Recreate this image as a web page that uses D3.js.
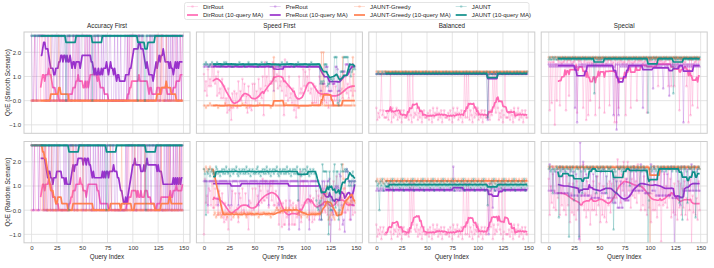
<!DOCTYPE html>
<html>
<head>
<meta charset="utf-8">
<script src="https://cdn.jsdelivr.net/npm/d3@7"></script>
<style>
  body { margin: 0; background: #fff; }
  svg { font-family: "Liberation Sans", Arial, sans-serif; }
</style>
</head>
<body>
<svg id="chart" width="714" height="268"></svg>
<script>
const methods = ['DirRout', 'PreRout', 'JAUNT-Greedy', 'JAUNT'];
const colors = ['#ff69b4', '#9932cc', '#ff7f50', '#0f8f8a'];
const columns = ['Accuracy First', 'Speed First', 'Balanced', 'Special'];
const scenarios = ['QoE (Smooth Scenario)', 'QoE (Random Scenario)'];
const xTicks = [0, 25, 50, 75, 100, 125, 150];
const yTicks = [-1, 0, 1, 2];
const windowSize = 10;
const accTop = 2.68;

// per-query QoE, one char per query (blocks of 10).
// Accuracy First: 1 = full QoE hit, 0 = miss
const accSmoothDir    = '0001000010 1100100100 0000000000 0000000100 0100101000 0001010110 0010001000 0000000000 0000000000 0000010101 0000011001 0000000100 0000100001 0000000001 1001000101';
const accSmoothPre    = '1001101111 1111001000 1101101101 1011010110 0110110101 1110110100 1001011001 0101100110 0010010010 0011010111 1111011101 1000100101 0111011011 1001010101 0110101101';
const accSmoothGreedy = '0000000000 0000000001 0000000100 0000000000 0000000000 0000000000 0000000000 0000000000 0000000000 0000000000 0000000000 0000000000 0000100010 0001000000 0000000000';
const accSmoothJaunt  = '1111111111 1111111111 1111111111 1111011111 1111111111 1111111111 0111111111 1111111111 1111111111 1111111111 1111101111 1101111111 1111111111 1111111111 1111111111';
const accRandomDir    = '0001000010 1100100100 0000000000 0000000101 0100100110 0000011110 0000001000 0000000000 0000000000 0000101001 0000010010 0010000000 0000100010 0000100100 1001000101';
const accRandomPre    = '1101111011 1101000110 1011010110 0010100111 1101101111 1011011010 0101011010 1010110110 1100100000 0001011111 1010011101 1101101101 1101010100 0101010100 1010101010';
const accRandomGreedy = '1111111111 1010100000 1000001000 0000000000 0100000000 0100000000 0000000000 0000000010 0000000001 0000000000 0010000000 0010000000 0000000010 0000001000 0000001000';
const accRandomJaunt  = '1111111111 1111111111 1111111111 1111111011 1111111111 1111111111 1111111111 1111011111 1111111111 1111111111 1111111111 1110111111 1111111111 1111111111 1111111111';

// other scenarios: level letters, A = -1.4 ... O = 0.0 ... q = 2.8 (step 0.1)
const LEVELS = 'ABCDEFGHIJKLMNOPQRSTUVWXYZabcdefghijklmnopq';
const speedSmoothDir    = 'ZSWQbUXUdW cVYQaRTPXP UMPJTKMGRL SNRLWOSOXQ VNQJULMKVP VOSMXQTPYI eUYSdVWVeX dWZTdUWSbI fQUOYPRNTK QHPLYRTRbU aUYSbRTNVN UNSMYQRNVO UNRLWOQMVO UOSNYRTPZS YRVPaSUQZS';
const speedSmoothPre    = 'ccdcccdccc cdcccccdcc ccccdccccc cdcccccccd ccccdccccc cccccdcccc ccdccccccS cccccdcccc ccccccdccc cdcccccccc ccccdccccc cccccSSVVV cccSSSSVVV ccbSSXXaaa dddcdccdcc';
const speedSmoothGreedy = 'MMLMMMNMMM MMMMLMMMMM MNMMMMMLMM MMMMMMMMNM MMLMMMMMMM MMMMMNMMMM MMMMMMLMMg MMMMMMMMMM MNMMMMMMMM MMMMLMMMMM MMMMMMMNMM MMMMMMiMiM MMMMMMMMMM MMMMMMMgMM MMMMMMMgMM';
const speedSmoothJaunt  = 'ddeddcdded dddedddcdd ededddddcd dddddedddd cdddeddddd dddcdddedd ddedddcddd dddddcdedd ddeddddddc dddedddddd ddcdddeddd dddddVWVWd ddUVVXXWXg ggNMOaaagg gggabYabcb';
const speedRandomDir    = 'EbRUNXWQZP PXQTMWTMVL JRKNGQPKWN NVNPJVTNXO NVMNGSRMXO PXQUNYWRbS SaTWPaYSaQ QWPRIRNHRI ISLOISQIRI IQLSMeJQaR RYRSKURJTK MWQUNWTNXO NVMPIUSNaR RcQTGVTNXN NVORKUSMWN';
const speedRandomPre    = 'aaaaQaaaaa aaaaQaaaaa aaaaQaaQaa aaaaQaaaaa aaaaQaaaaa aaaaQaaaaa aaaaQaaaaa aaaaQaaaaa aaaaGaaaaa aaaaGaaaaa aaaaGaaaaa aaaaKQKaQa QXaabAKOMX YXYXdcQIKF efeaaKaQaa';
const speedRandomGreedy = 'fegfefgfef MNLMNMNLMN NMNLNMNMNL MNNMLNMNMN NMLNMNNMNM MNMNLMNMNN NMNMNMLNMN NOPOONPONO OPNOPOONPO OPNMNMLNMN MNLMNMNMNM NMNMNMTWUR VYQKLMNMLK NMNMNMPhbX RSRTQSRTSR';
const speedRandomJaunt  = 'fdMedfcefd edgfdecefd fdgedfcefd fegdcfdefd fdgedfcefd edfgdecefd fdgedfcefd fegdcfdefd fdgedfcefd fdgSdfcefd fegdcfdefd eSPORSKhee eeYEeOOSeh PeeKOeheef efeYaYaeYa';
const balSmoothDir      = 'LGJHKZIKHH HJGKZFLHJI LGJHKFIKHH HZGZIFZHJI LGJHKFIKHH HJGKIFLHJI LGJHKFIKHH HJGKIFLHJI LGJHKFIZHZ HZGKIFLHJI LGJHKFIKHH HZGKIZLZJZ LGJHKFIZHH HJGKIFLHJI LGJHKFIKHH';
const balSmoothPre      = 'ZZZZZZZZZZ ZZZZZZZZZZ ZZZZZZZZZZ ZZZZZZZZZZ ZZZZZZZZZZ ZZZZZZZZZZ ZZZZZZZZZZ ZZZZZZZZZZ ZZZZZZZZZZ ZZZZZZZZZZ ZZZZZZZZZZ GZZZZZZZZZ ZZZZZZZZZZ ZZZZZZZZZZ ZZZZZZZZZZ';
const balSmoothGreedy   = 'aaZaaaZaaa aaZaaaZaaa aaZaaaZaaa aaZaaaZaaa aaZaaaZaaa aaZaaaZaaa aaZaaaZaaa aaZaaaZaaa aaZaaaZaaa aaZaaaZaaa aaZaaaZaaa aaZaaaZaaa aaZaaaZaaa aaZaaaZaaa aaZaaaZaaa';
const balSmoothJaunt    = 'ZZaZZZaZZa ZZaZZZaZZa ZZaZZZaZZa ZZaZZZaZZa ZZaZZZaZZa ZZaZZZaZZa ZZaZZZaZZa ZZaZZZaZZa ZZaZZZaZZa ZZaZZZaZZa ZZaZZZaZZa HZaZZZaZZa ZZaZZZaZZa ZZaZZZaZZa ZZaZZZaZZa';
const balRandomDir      = 'IDGEHCFHEE EGZHFCZEGF IDGEHCFHEE EGDZFZIZGF IDGEHCFHEE EGDHFCIEGF IDGEHCFHEE EGDHFCIEGF IDGEHCZHEZ EZDHFCIEGF IDGEHCFHEE ZGZHZCIEGF IZGEZCFZEE EGDHFCIEGF IDGEHCFHEE';
const balRandomPre      = 'WXWWXWXWWX WXWWXWXWWX WXWWXWXWWX WXWWXWXWWX WXWWXWXWWX WXWWXWXWWX WXWWXWXWWX WXWWXWgWWX WXWWXWXWWX WXWWXWXWWX WXWWXWXWWX WEWWXPXWWX WXWWXWXWWX WXWWXWXWWX WXWWXWXWWX';
const balRandomGreedy   = 'abaZbaaZba abaZbaaZba abaZbaaZba abaZbaaZba abaZbaaZba abaZbaaZba abaZbaaZba abaZbaaZba abaZbaaZba abaZbaaZba abaZbaaZba abaZbaaZba abaZbaaZba abaZbaaZba abaZbaaZba';
const balRandomJaunt    = 'aYZOaYbWZY aYZXaYbWZY aYZXaYbWZY aYZXaYbWZY aYZXaYbWZY aYZXaYbWZY aYZXaYbWZY aYZXaYbWZY aYZXaYbWZY aYZXaYbWZY aYZXaYbWZY QYZXaYbWZY aYZXaYbWZY aYZXaYbWZY aYZXaYbWZY';
const specSmoothDir     = 'eKeNeeEdOf eMedeefKef QfedeefdJf efedLefGeI eOedeeIdef LfedeJfdef MfedeFfFeL efedeeIdef eLedeefOef efedeefJef efedeefdUf efedeefdUf eUedUefdeK efedeeUdFf IfMdeefLef';
const specSmoothPre     = 'dcdcdcdcdc dcdcdcdcdc dcdcdcLcFc dcdcdcdcdc dcdcdcdcdc dcdcdcdcdc dcdcIcdCdI dcdcdcdcdc dcdcdcdcdc dcdLdcdcdc dcdTdcdcdc dcdTdcdcdQ dcdcdcdcdc dcdFdcdcdc dcdcdcdcdc';
const specSmoothGreedy  = 'gfgggfgggf gfgggfgggf gfgggfgggf gfgggfgggf gfgggfgggf gfgggfgggf gfgggfgggf gfgggfgggf gfgggfgggf gfgggfgggf gfgggfgggf gfgggfgggf gfgggfgggf gfgggfgggf gfgggfgggf';
const specSmoothJaunt   = 'fgffgfgffg fgffgfgffg fgffgfgffg fgffgfgffg fgffgRgffg fgffgfgffg fgffgfgffg fgffgfgffg fgffgfgffg fgffgfgfJg fgffgfgffg fgffgfgffg fgfRgfgffg fgffgfgffg fgffgfgffg';
const specRandomDir     = 'bMYRdPWOfT cMYQcOVMcQ ZJVNZMTKaO XAUQhOVLaO XIUOaOVMcQ ZJUMYLSJZQ aNZSeTcTjX gRdWiUbSiW ePbUgTaRhV eOYQcOVMbP YJVOaOULbQ eBXQdRYPfT bLVNZMTKaP ZMXPaMTKaO cAUNZMTKaO';
const specRandomPre     = 'WhWWgWVeVV VgVVfVVeVV UfUUeUUdUU CqUUiUUdUU UfTTdTTcTT TeVVfVVcTT TeTRbRRaPP PaPPZSSbSS UfWWgWWfWW WhWWfVVeVV VhWWgWUdUU UfUUeUUdUU UgTTATTfTT QgTWgWWfWW WhWWgWWfWW';
const specRandomGreedy  = 'gfgggfgggf gfgggfgggf gfgggfgggf gfgggfgggf gfgggfgggf gfgggfgggf gfgggfgggf gfgggfgggf gfgggfgggf gfgggfgggf Afgggfgggf gfgggfgggf gfgggfgggf gfgggfgggf gfgggfgggf';
const specRandomJaunt   = 'fgefVfefgf Lgefgfefgf DgefgSefgf DgeVgfefgf fgefgfeVgf fgefgfeVgf fgefGfeVgf fgefgfefgf Ygefgfefgf YgefgfefAS fgefgfefgf fgefgfefgf fgefgfefgR fgKfgfeRgf fgefgLefgf';

const hits = (s, top) => s.replace(/ /g, '').split('').map(c => c === '1' ? top : 0);
const levels = s => s.replace(/ /g, '').split('').map(c => +(-1.4 + 0.1 * LEVELS.indexOf(c)).toFixed(1));

const panels = [
  { row: 0, col: 0, raw: [accSmoothDir, accSmoothPre, accSmoothGreedy, accSmoothJaunt].map(s => hits(s, accTop)) },
  { row: 1, col: 0, raw: [accRandomDir, accRandomPre, accRandomGreedy, accRandomJaunt].map(s => hits(s, accTop)) },
  { row: 0, col: 1, raw: [speedSmoothDir, speedSmoothPre, speedSmoothGreedy, speedSmoothJaunt].map(levels) },
  { row: 1, col: 1, raw: [speedRandomDir, speedRandomPre, speedRandomGreedy, speedRandomJaunt].map(levels) },
  { row: 0, col: 2, raw: [balSmoothDir, balSmoothPre, balSmoothGreedy, balSmoothJaunt].map(levels) },
  { row: 1, col: 2, raw: [balRandomDir, balRandomPre, balRandomGreedy, balRandomJaunt].map(levels) },
  { row: 0, col: 3, raw: [specSmoothDir, specSmoothPre, specSmoothGreedy, specSmoothJaunt].map(levels) },
  { row: 1, col: 3, raw: [specRandomDir, specRandomPre, specRandomGreedy, specRandomJaunt].map(levels) }
];

const movingAvg = v => v.map((d, i) => i < windowSize - 1 ? null : d3.mean(v.slice(i - windowSize + 1, i + 1)));

const panelW = 166;
const panelH = 101.3;
const panelLeft = col => 24 + col * 172.4;
const panelTop = row => row === 0 ? 32 : 141.5;

const x = d3.scaleLinear().domain([-7.45, 156.45]).range([0, panelW]);
const y = d3.scaleLinear().domain([-1.35, 2.84]).range([panelH, 0]);
const line = d3.line().defined(d => d != null).x((d, i) => x(i)).y(d => y(d));

const svg = d3.select('#chart');

panels.forEach((p, k) => {
  const g = svg.append('g').attr('transform', `translate(${panelLeft(p.col)},${panelTop(p.row)})`);
  g.append('clipPath').attr('id', 'clip' + k)
    .append('rect').attr('width', panelW).attr('height', panelH);
  g.append('rect').attr('width', panelW).attr('height', panelH).attr('fill', '#fff');

  g.selectAll('.gx').data(xTicks).join('line')
    .attr('x1', d => x(d)).attr('x2', d => x(d)).attr('y1', 0).attr('y2', panelH)
    .attr('stroke', '#dedede').attr('stroke-width', 0.8);
  g.selectAll('.gy').data(yTicks).join('line')
    .attr('y1', d => y(d)).attr('y2', d => y(d)).attr('x1', 0).attr('x2', panelW)
    .attr('stroke', '#dedede').attr('stroke-width', 0.8);

  const plot = g.append('g').attr('clip-path', `url(#clip${k})`);
  p.raw.forEach((vals, i) => {
    plot.append('path').datum(vals).attr('d', line)
      .attr('fill', 'none').attr('stroke', colors[i]).attr('stroke-width', 0.8).attr('stroke-opacity', 0.3);
    plot.append('g').selectAll('circle').data(vals).join('circle')
      .attr('cx', (d, j) => x(j)).attr('cy', d => y(d)).attr('r', 1.3)
      .attr('fill', colors[i]).attr('fill-opacity', 0.3);
    plot.append('path').datum(movingAvg(vals)).attr('d', line)
      .attr('fill', 'none').attr('stroke', colors[i]).attr('stroke-width', 1.7)
      .attr('stroke-linejoin', 'round');
  });

  g.append('rect').attr('width', panelW).attr('height', panelH)
    .attr('fill', 'none').attr('stroke', '#cccccc').attr('stroke-width', 1);

  if (p.row === 0) {
    g.append('text').attr('x', panelW / 2).attr('y', -4).attr('text-anchor', 'middle')
      .attr('font-size', 6.3).attr('fill', '#262626').text(columns[p.col]);
  }
  if (p.col === 0) {
    const ay = g.append('g')
      .call(d3.axisLeft(y).tickValues(yTicks).tickSize(0).tickPadding(3));
    ay.select('.domain').remove();
    ay.selectAll('text').attr('font-size', 6).attr('fill', '#333').attr('font-family', 'Liberation Sans, Arial, sans-serif');
    g.append('text').attr('transform', `translate(-14,${panelH / 2}) rotate(-90)`)
      .attr('text-anchor', 'middle').attr('font-size', 6.3).attr('fill', '#262626')
      .text(scenarios[p.row]);
  }
  if (p.row === 1) {
    const ax = g.append('g').attr('transform', `translate(0,${panelH})`)
      .call(d3.axisBottom(x).tickValues(xTicks).tickSize(0).tickPadding(3));
    ax.select('.domain').remove();
    ax.selectAll('text').attr('font-size', 6).attr('fill', '#333').attr('font-family', 'Liberation Sans, Arial, sans-serif');
    g.append('text').attr('x', panelW / 2).attr('y', panelH + 16.5).attr('text-anchor', 'middle')
      .attr('font-size', 6.3).attr('fill', '#262626').text('Query Index');
  }
});

// legend
const legendX = [187, 269.7, 354, 455.7];
const legend = svg.append('g');
legend.append('rect').attr('x', 184.5).attr('y', 2.5).attr('width', 344.5).attr('height', 17)
  .attr('rx', 2).attr('fill', '#fff').attr('stroke', '#dddddd').attr('stroke-width', 0.8);
methods.forEach((m, i) => {
  const lx = legendX[i];
  legend.append('line').attr('x1', lx).attr('x2', lx + 11).attr('y1', 6.5).attr('y2', 6.5)
    .attr('stroke', colors[i]).attr('stroke-width', 0.8).attr('stroke-opacity', 0.3);
  legend.append('circle').attr('cx', lx + 5.5).attr('cy', 6.5).attr('r', 1.3)
    .attr('fill', colors[i]).attr('fill-opacity', 0.3);
  legend.append('text').attr('x', lx + 16).attr('y', 6.5).attr('dy', '0.35em')
    .attr('font-size', 6).attr('fill', '#262626').text(m);
  legend.append('line').attr('x1', lx).attr('x2', lx + 11).attr('y1', 15).attr('y2', 15)
    .attr('stroke', colors[i]).attr('stroke-width', 1.7);
  legend.append('text').attr('x', lx + 16).attr('y', 15).attr('dy', '0.35em')
    .attr('font-size', 6).attr('fill', '#262626').text(m + ' (10-query MA)');
});
</script>
</body>
</html>
